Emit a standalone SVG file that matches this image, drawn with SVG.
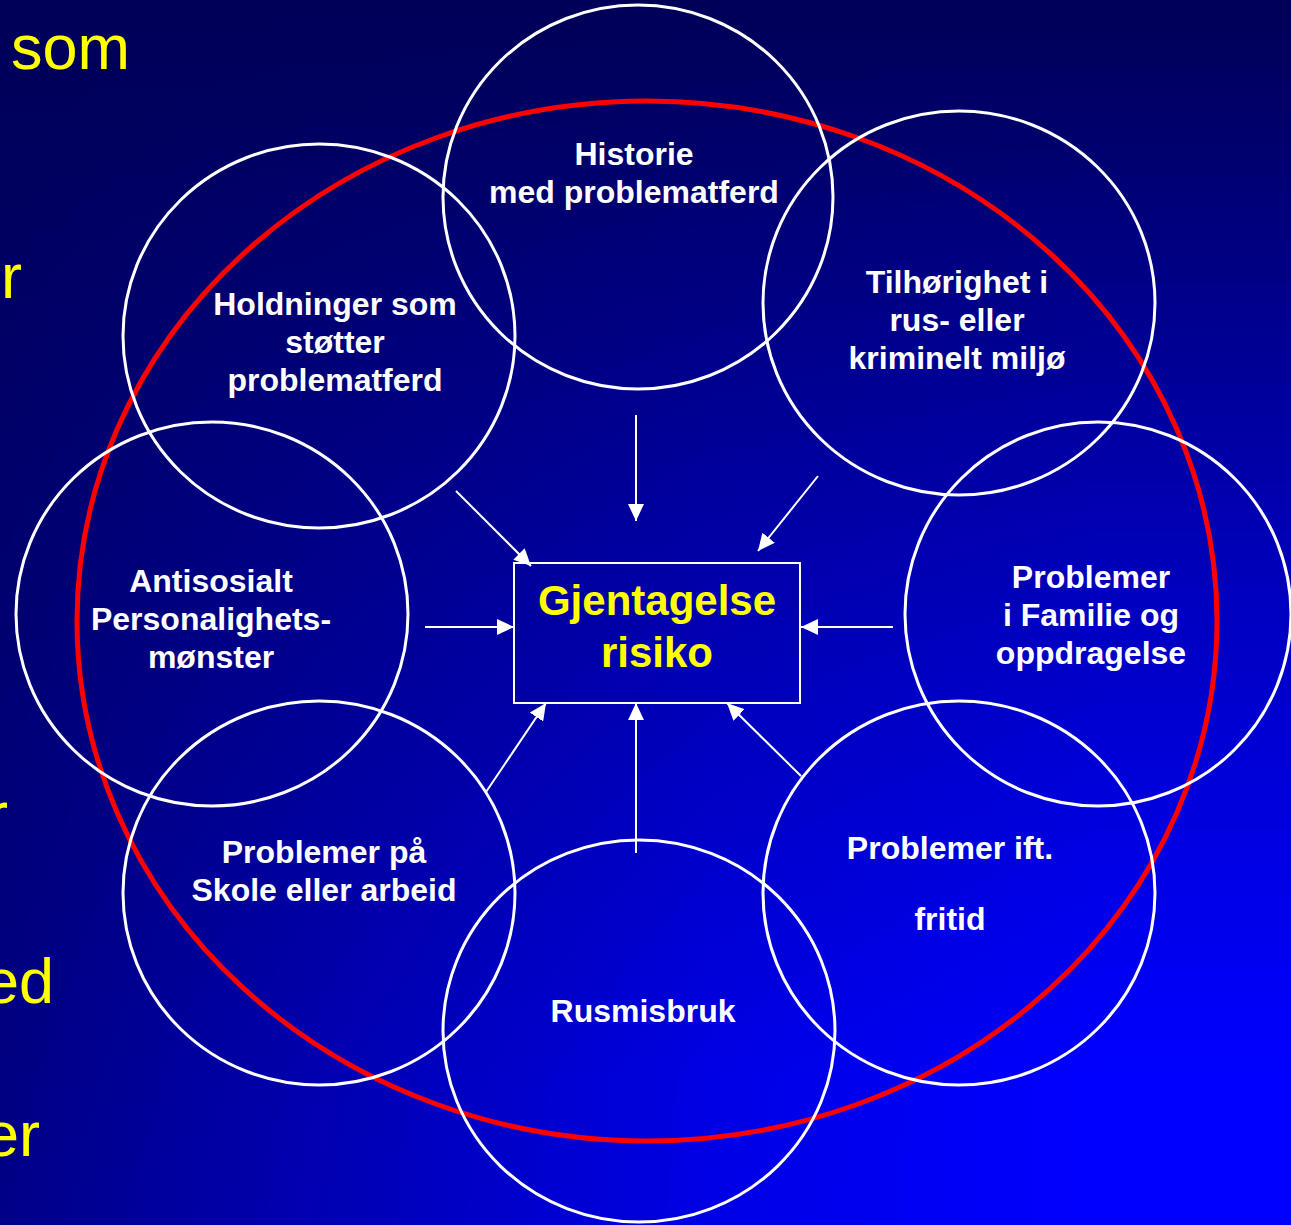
<svg xmlns="http://www.w3.org/2000/svg" width="1291" height="1225" viewBox="0 0 1291 1225">
<defs>
<linearGradient id="bgv" x1="0" y1="0" x2="0" y2="1">
<stop offset="0" stop-color="#000058"/>
<stop offset="1" stop-color="#000088"/>
</linearGradient>
<linearGradient id="mh" x1="0" y1="0" x2="1" y2="0">
<stop offset="0" stop-color="#000"/>
<stop offset="0.15" stop-color="#3a3a3a"/>
<stop offset="0.55" stop-color="#c8c8c8"/>
<stop offset="0.85" stop-color="#fff"/>
</linearGradient>
<linearGradient id="mv" x1="0" y1="0" x2="0" y2="1">
<stop offset="0" stop-color="#000"/>
<stop offset="0.1" stop-color="#141414"/>
<stop offset="0.5" stop-color="#909090"/>
<stop offset="0.88" stop-color="#fff"/>
</linearGradient>
<mask id="maskH" maskUnits="userSpaceOnUse" x="0" y="0" width="1291" height="1225">
<rect width="1291" height="1225" fill="url(#mh)"/>
</mask>
<mask id="maskV" maskUnits="userSpaceOnUse" x="0" y="0" width="1291" height="1225">
<rect width="1291" height="1225" fill="url(#mv)"/>
</mask>
<marker id="ah" markerUnits="userSpaceOnUse" markerWidth="17" markerHeight="16" refX="17" refY="8" orient="auto">
<path d="M0,0 L17,8 L0,16 z" fill="#fff"/>
</marker>
<style>
.c{fill:none;stroke:#fff;stroke-width:3}
.t{font-family:"Liberation Sans",Arial,sans-serif;font-weight:bold;font-size:32px;fill:#fff;text-anchor:middle}
.y{font-family:"Liberation Sans",Arial,sans-serif;font-size:63px;fill:#ffff00}
.g{font-family:"Liberation Sans",Arial,sans-serif;font-weight:bold;font-size:42px;fill:#ffff00;text-anchor:middle}
.a{stroke:#fff;stroke-width:2;fill:none;marker-end:url(#ah)}
</style>
</defs>
<rect width="1291" height="1225" fill="url(#bgv)"/>
<g mask="url(#maskV)">
<rect width="1291" height="1225" fill="#0000ff" mask="url(#maskH)"/>
</g>
<g id="side-text">
<text class="y" x="11" y="69">som</text>
<text class="y" x="1" y="298">r</text>
<text class="y" x="-13" y="836">r</text>
<text class="y" x="-16" y="1003">ed</text>
<text class="y" x="-16" y="1156">er</text>
</g>
<ellipse id="outer-ring" cx="647" cy="621" rx="570" ry="520" fill="none" stroke="#ff0000" stroke-width="5"/>
<g id="n-historie">
<ellipse class="c" cx="638" cy="197" rx="195" ry="192"/>
<text class="t" x="634" y="165">Historie</text>
<text class="t" x="634" y="203">med problematferd</text>
</g>
<g id="n-tilhorighet">
<ellipse class="c" cx="959" cy="303" rx="196" ry="192"/>
<text class="t" x="957" y="293">Tilhørighet i</text>
<text class="t" x="957" y="331">rus- eller</text>
<text class="t" x="957" y="369">kriminelt miljø</text>
</g>
<g id="n-holdninger">
<ellipse class="c" cx="319" cy="336" rx="196" ry="192"/>
<text class="t" x="335" y="315">Holdninger som</text>
<text class="t" x="335" y="353">støtter</text>
<text class="t" x="335" y="391">problematferd</text>
</g>
<g id="n-antisosialt">
<ellipse class="c" cx="212" cy="614" rx="196" ry="192"/>
<text class="t" x="211" y="592">Antisosialt</text>
<text class="t" x="211" y="630">Personalighets-</text>
<text class="t" x="211" y="668">mønster</text>
</g>
<g id="n-familie">
<ellipse class="c" cx="1098" cy="614" rx="193" ry="192"/>
<text class="t" x="1091" y="588">Problemer</text>
<text class="t" x="1091" y="626">i Familie og</text>
<text class="t" x="1091" y="664">oppdragelse</text>
</g>
<g id="n-skole">
<ellipse class="c" cx="319" cy="893" rx="196" ry="192"/>
<text class="t" x="324" y="863">Problemer på</text>
<text class="t" x="324" y="901">Skole eller arbeid</text>
</g>
<g id="n-rusmisbruk">
<ellipse class="c" cx="639" cy="1031" rx="196" ry="191"/>
<text class="t" x="643" y="1022">Rusmisbruk</text>
</g>
<g id="n-fritid">
<ellipse class="c" cx="959" cy="893" rx="196" ry="192"/>
<text class="t" x="950" y="859">Problemer ift.</text>
<text class="t" x="950" y="930">fritid</text>
</g>
<g id="n-risiko">
<rect x="514" y="563" width="286" height="140" fill="none" stroke="#fff" stroke-width="2"/>
<text class="g" x="657" y="615">Gjentagelse</text>
<text class="g" x="657" y="667">risiko</text>
</g>
<g id="connectors">
<line class="a" x1="636" y1="415" x2="636" y2="521"/>
<line class="a" x1="818" y1="476" x2="758" y2="551"/>
<line class="a" x1="456" y1="491" x2="531" y2="566"/>
<line class="a" x1="425" y1="627" x2="514" y2="627"/>
<line class="a" x1="893" y1="627" x2="801" y2="627"/>
<line class="a" x1="486" y1="792" x2="546" y2="703"/>
<line class="a" x1="636" y1="853" x2="636" y2="703"/>
<line class="a" x1="801" y1="776" x2="727" y2="703"/>
</g>
</svg>
